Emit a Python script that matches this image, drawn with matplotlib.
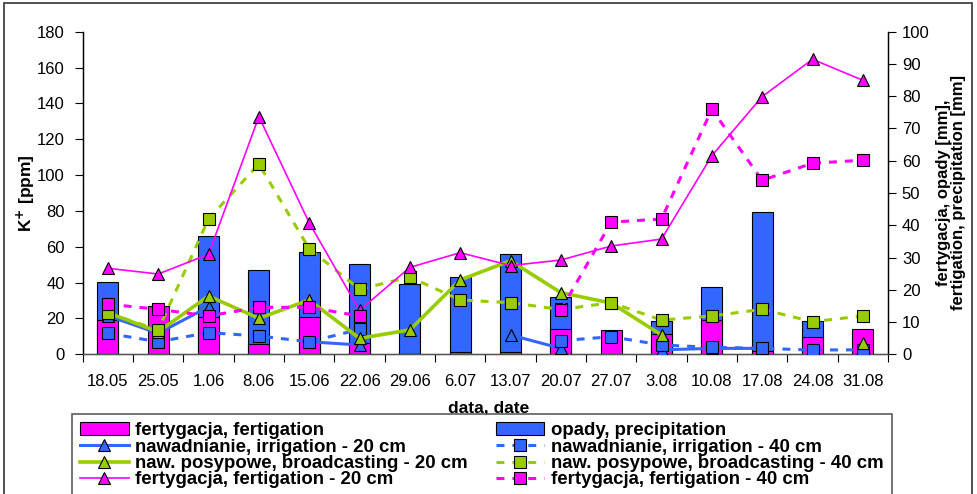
import numpy as np
import matplotlib
matplotlib.use("Agg")
import matplotlib.pyplot as plt
from matplotlib.patches import Rectangle, Patch
from matplotlib.lines import Line2D

plt.rcParams['font.family'] = ['Liberation Sans', 'DejaVu Sans']

dates = ['18.05', '25.05', '1.06', '8.06', '15.06', '22.06', '29.06', '6.07',
         '13.07', '20.07', '27.07', '3.08', '10.08', '17.08', '24.08', '31.08']
nan = np.nan
fert_mm = [10.6, 15.0, 11.7, 3.1, 11.5, 3.6, 0, 0.8, 0.8, 7.7, 7.4, 6.3, 10.6, 1.0, 5.3, 7.7]
precip_mm = [22.4, 0, 36.7, 26.1, 31.6, 27.9, 21.7, 24.0, 31.1, 17.7, 0, 10.4, 21.0, 44.2, 10.4, 0]

irr20 = [21.5, 11.7, 26.5, nan, 7.0, 5.2, nan, nan, 10.8, 3.3, nan, 2.5, 3.3, 3.3, nan, 3.5]
irr40 = [11.7, 7.0, 12.1, 10.2, 7.0, 13.9, nan, nan, nan, 7.6, 9.8, 5.2, 3.9, 3.3, 2.4, 2.5]
broad20 = [23.2, 12.6, 32.5, 20.1, 30.3, 8.9, 13.6, 41.5, 52.2, 34.4, 28.6, 10.8, nan, nan, nan, 6.5]
broad40 = [23.0, 13.6, 75.5, 106.2, 58.9, 36.3, 43.1, 30.3, 28.8, 25.0, 28.8, 19.1, 21.4, 25.1, 18.2, 21.4]
fert20 = [48.0, 44.8, 55.8, 132.6, 73.4, 24.5, 48.5, 56.7, 49.5, 52.6, 60.4, 64.3, 110.8, 143.8, 164.6, 152.9]
fert40 = [28.0, 25.1, 21.4, 26.2, 26.2, 21.4, nan, nan, nan, 24.7, 73.7, 75.5, 136.7, 97.1, 106.6, 108.3]

BLUE = '#3366FF'
GREEN = '#99CC00'
MAG = '#FF00FF'

W, H = 977, 494
fig = plt.figure(figsize=(W / 100, H / 100), dpi=100)
ax = fig.add_axes([82.7 / W, 1 - 354.3 / H, (888 - 82.7) / W, (354.3 - 31.7) / H])
ax2 = ax.twinx()
ax.set_zorder(ax2.get_zorder() + 1)
ax.patch.set_visible(False)

x = np.arange(len(dates))
bw = 0.42
ax2.bar(x, precip_mm, width=bw, color=BLUE, edgecolor='black', linewidth=0.8, zorder=2)
ax2.bar(x, fert_mm, width=bw, color=MAG, edgecolor='black', linewidth=0.8, zorder=3)

dash = (0, (2.6, 2.6))
ms_t, ms_s = 9, 8
ax.plot(x, irr20, color=BLUE, lw=2.2, marker='^', ms=ms_t, mfc=BLUE, mec='black', mew=0.8, zorder=3)
ax.plot(x, irr40, color=BLUE, lw=2.2, ls=dash, marker='s', ms=ms_s, mfc=BLUE, mec='black', mew=0.8, zorder=4)
ax.plot(x, broad20, color=GREEN, lw=2.6, marker='^', ms=ms_t, mfc=GREEN, mec='black', mew=0.8, zorder=5)
ax.plot(x, broad40, color=GREEN, lw=2.2, ls=dash, marker='s', ms=ms_s, mfc=GREEN, mec='black', mew=0.8, zorder=6)
ax.plot(x, fert20, color=MAG, lw=1.2, marker='^', ms=ms_t, mfc=MAG, mec='black', mew=0.8, zorder=7)
ax.plot(x, fert40, color=MAG, lw=2.2, ls=dash, marker='s', ms=ms_s, mfc=MAG, mec='black', mew=0.8, zorder=8)

ax.set_xlim(-0.5, len(dates) - 0.5)
ax.set_ylim(0, 180)
ax2.set_ylim(0, 100)
ax.set_yticks(np.arange(0, 181, 20))
ax2.set_yticks(np.arange(0, 101, 10))
ax.set_xticks(x)
ax.set_xticklabels(dates, fontsize=12)
ax.set_xticks(np.arange(-0.5, len(dates)), minor=True)
ax.tick_params(axis='x', which='major', length=0, pad=14)
ax.tick_params(axis='x', which='minor', length=6, width=0.8, direction='out')
ax.tick_params(axis='y', labelsize=12, length=6, width=0.8, pad=7)
ax2.tick_params(axis='y', labelsize=12, length=6, width=0.8, pad=4)
for a in (ax, ax2):
    a.spines['top'].set_visible(False)
    for s in ('left', 'right', 'bottom'):
        a.spines[s].set_linewidth(0.9)
ax.spines['bottom'].set_color('#555555')

fig.text(448 / W, 1 - 408 / H, 'data, date', fontsize=12.5, fontweight='bold', ha='left', va='center')
fig.text(26 / W, 1 - 193 / H, r'K$^{\mathbf{+}}$ [ppm]', fontsize=12.5, fontweight='bold',
         rotation=90, ha='center', va='center')
fig.text(951 / W, 1 - 193 / H, 'fertygacja, opady [mm],\nfertigation, precipitation [mm]',
         fontsize=12, fontweight='bold', rotation=90, ha='center', va='center', multialignment='center',
         linespacing=1.05)

handles = [
    Patch(facecolor=MAG, edgecolor='black', linewidth=0.8),
    Line2D([], [], color=BLUE, lw=2.2, marker='^', ms=ms_t, mfc=BLUE, mec='black', mew=0.8),
    Line2D([], [], color=GREEN, lw=2.6, marker='^', ms=ms_t, mfc=GREEN, mec='black', mew=0.8),
    Line2D([], [], color=MAG, lw=1.2, marker='^', ms=ms_t, mfc=MAG, mec='black', mew=0.8),
    Patch(facecolor=BLUE, edgecolor='black', linewidth=0.8),
    Line2D([], [], color=BLUE, lw=2.2, ls=dash, marker='s', ms=ms_s, mfc=BLUE, mec='black', mew=0.8),
    Line2D([], [], color=GREEN, lw=2.2, ls=dash, marker='s', ms=ms_s, mfc=GREEN, mec='black', mew=0.8),
    Line2D([], [], color=MAG, lw=2.2, ls=dash, marker='s', ms=ms_s, mfc=MAG, mec='black', mew=0.8),
]
labels = ['fertygacja, fertigation', 'nawadnianie, irrigation - 20 cm',
          'naw. posypowe, broadcasting - 20 cm', 'fertygacja, fertigation - 20 cm',
          'opady, precipitation', 'nawadnianie, irrigation - 40 cm',
          'naw. posypowe, broadcasting - 40 cm', 'fertygacja, fertigation - 40 cm']
leg = fig.legend(handles, labels, ncol=2, loc='upper left', bbox_to_anchor=(71.7 / W, 1 - 414 / H),
                 prop={'weight': 'bold', 'size': 13.45}, frameon=True, fancybox=False,
                 edgecolor='#333333', labelspacing=-0.04, handlelength=2.6, handletextpad=0.34,
                 columnspacing=1.5, borderpad=0.45, borderaxespad=0, numpoints=1)
leg.get_frame().set_linewidth(1.2)

fig.patches.append(Rectangle((4 / W, -0.05), (972 - 4) / W, 1.05 - 3 / H, transform=fig.transFigure,
                             fill=False, edgecolor='#333333', linewidth=1.2, zorder=-1))

fig.savefig('out.png', dpi=100)
